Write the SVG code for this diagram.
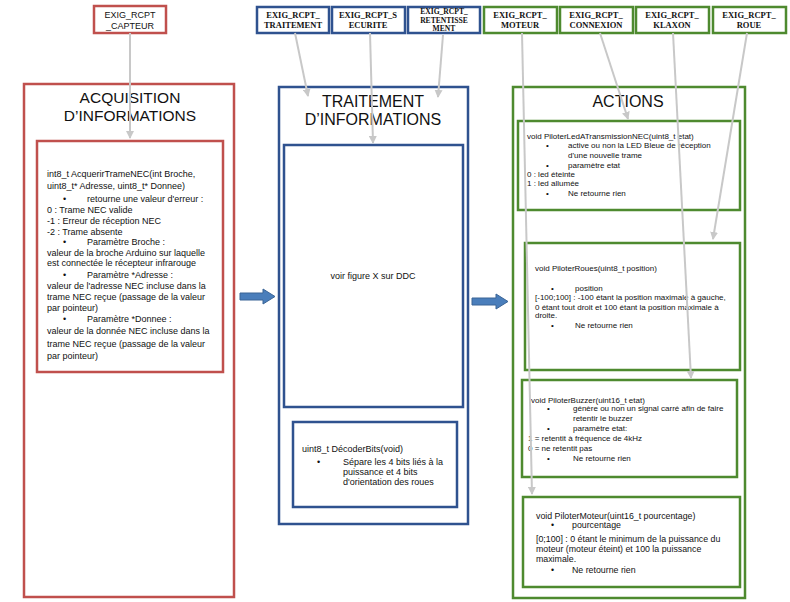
<svg xmlns="http://www.w3.org/2000/svg" width="790" height="602" viewBox="0 0 790 602">
<defs>
<style>
.red{fill:#fff;stroke:#c0504d;stroke-width:2.5}
.blue{fill:#fff;stroke:#2f528f;stroke-width:2.5}
.green{fill:#fff;stroke:#4e8a2f;stroke-width:2.5}
.title{font-family:"Liberation Sans",Arial,sans-serif;font-size:16px;fill:#111;text-anchor:middle}
.req{font-family:"Liberation Serif","Times New Roman",serif;font-weight:bold;font-size:8.5px;fill:#111;text-anchor:middle}
.reqs{font-family:"Liberation Sans",Arial,sans-serif;font-size:9px;fill:#111;text-anchor:middle}
.t9{font-family:"Liberation Sans",Arial,sans-serif;font-size:9px;fill:#111}
.t8{font-family:"Liberation Sans",Arial,sans-serif;font-size:8px;fill:#111}
.t88{font-family:"Liberation Sans",Arial,sans-serif;font-size:8.8px;fill:#111}
.conn{fill:none;stroke:#c8c8c8;stroke-width:2}
.block{fill:#4a7ebb;stroke:#3a6496;stroke-width:1}
</style>
<marker id="ah" markerWidth="8" markerHeight="8" refX="7" refY="4" orient="auto" markerUnits="userSpaceOnUse">
<path d="M0,0 L8,4 L0,8 Z" fill="#c8c8c8"/>
</marker>
</defs>
<rect width="790" height="602" fill="#fff"/>

<g id="req-capteur">
<rect class="red" x="94" y="6" width="72" height="27"/>
<text class="reqs" x="130" y="18">EXIG_RCPT</text>
<text class="reqs" x="130" y="29">_CAPTEUR</text>
</g>
<g id="req-traitement">
<rect class="blue" x="257" y="7" width="72" height="26"/>
<text class="req" x="293" y="18">EXIG_RCPT_</text>
<text class="req" x="293" y="28">TRAITEMENT</text>
</g>
<g id="req-securite">
<rect class="blue" x="332" y="7" width="73" height="26"/>
<text class="req" x="368" y="18">EXIG_RCPT_S</text>
<text class="req" x="368" y="28">ECURITE</text>
</g>
<g id="req-retentissement">
<rect class="blue" x="408" y="7" width="72" height="26"/>
<text class="req" x="444" y="14" style="font-size:7.6px">EXIG_RCPT_</text>
<text class="req" x="444" y="22.5" style="font-size:7.6px">RETENTISSE</text>
<text class="req" x="444" y="31" style="font-size:7.6px">MENT</text>
</g>
<g id="req-moteur">
<rect class="green" x="484" y="7" width="73" height="26"/>
<text class="req" x="520" y="18">EXIG_RCPT_</text>
<text class="req" x="520" y="28">MOTEUR</text>
</g>
<g id="req-connexion">
<rect class="green" x="560" y="7" width="73" height="26"/>
<text class="req" x="596" y="18">EXIG_RCPT_</text>
<text class="req" x="596" y="28">CONNEXION</text>
</g>
<g id="req-klaxon">
<rect class="green" x="636" y="7" width="73" height="26"/>
<text class="req" x="672" y="18">EXIG_RCPT_</text>
<text class="req" x="672" y="28">KLAXON</text>
</g>
<g id="req-roue">
<rect class="green" x="713" y="7" width="73" height="26"/>
<text class="req" x="749" y="18">EXIG_RCPT_</text>
<text class="req" x="749" y="28">ROUE</text>
</g>

<g id="acquisition">
<rect class="red" x="24" y="84" width="210" height="513"/>
<text class="title" x="130" y="103" style="font-size:15.5px">ACQUISITION</text>
<text class="title" x="130" y="121" style="font-size:15.5px">D’INFORMATIONS</text>
</g>
<g id="acquerir-trame">
<rect class="red" x="37" y="141" width="186" height="231"/>
<text class="t9" x="47" y="177">int8_t AcquerirTrameNEC(int Broche,</text>
<text class="t9" x="47" y="189">uint8_t* Adresse, uint8_t* Donnee)</text>
<text class="t9" x="63" y="202">•</text><text class="t9" x="87" y="202">retourne une valeur d'erreur :</text>
<text class="t9" x="47" y="213">0 : Trame NEC valide</text>
<text class="t9" x="47" y="224">-1 : Erreur de réception NEC</text>
<text class="t9" x="47" y="235">-2 : Trame absente</text>
<text class="t9" x="63" y="245">•</text><text class="t9" x="87" y="245">Paramètre Broche :</text>
<text class="t9" x="47" y="256"> valeur de la broche Arduino sur laquelle</text>
<text class="t9" x="47" y="266">est connectée le récepteur infrarouge</text>
<text class="t9" x="63" y="278">•</text><text class="t9" x="87" y="278">Paramètre *Adresse :</text>
<text class="t9" x="47" y="289">valeur de l'adresse NEC incluse dans la</text>
<text class="t9" x="47" y="300">trame NEC reçue (passage de la valeur</text>
<text class="t9" x="47" y="311">par pointeur)</text>
<text class="t9" x="63" y="322">•</text><text class="t9" x="87" y="322">Paramètre *Donnee :</text>
<text class="t9" x="47" y="334">valeur de la donnée NEC incluse dans la</text>
<text class="t9" x="47" y="347">trame NEC reçue (passage de la valeur</text>
<text class="t9" x="47" y="359">par pointeur)</text>
</g>

<g id="traitement">
<rect class="blue" x="279" y="87" width="189" height="437"/>
<text class="title" x="373" y="107">TRAITEMENT</text>
<text class="title" x="373" y="125">D’INFORMATIONS</text>
</g>
<g id="figure-ddc">
<rect class="blue" x="284" y="145" width="179" height="262"/>
<text class="t9" x="373" y="279" text-anchor="middle">voir figure X sur DDC</text>
</g>
<g id="decoder-bits">
<rect class="blue" x="293" y="422" width="164" height="85"/>
<text class="t9" x="302" y="452">uint8_t DécoderBits(void)</text>
<text class="t9" x="317" y="465">•</text><text class="t9" x="343" y="465">Sépare les 4 bits liés à la</text>
<text class="t9" x="343" y="475">puissance et  4 bits</text>
<text class="t9" x="343" y="485">d'orientation des roues</text>
</g>

<g id="actions">
<rect class="green" x="513" y="87" width="232" height="511"/>
<text class="title" x="628" y="107">ACTIONS</text>
</g>
<g id="piloter-led">
<rect class="green" x="518" y="121" width="222" height="89"/>
<text class="t8" x="527" y="139">void PiloterLedATransmissionNEC(uint8_t etat)</text>
<text class="t8" x="546" y="148">•</text><text class="t8" x="568" y="148">active ou non la LED Bleue de réception</text>
<text class="t8" x="568" y="158">d'une nouvelle trame</text>
<text class="t8" x="546" y="168">•</text><text class="t8" x="568" y="168">paramètre etat</text>
<text class="t8" x="527" y="177">0 : led éteinte</text>
<text class="t8" x="527" y="186">1 : led allumée</text>
<text class="t8" x="546" y="196">•</text><text class="t8" x="568" y="196">Ne retourne rien</text>
</g>
<g id="piloter-roues">
<rect class="green" x="525" y="243" width="215" height="127"/>
<text class="t8" x="535" y="271">void PiloterRoues(uint8_t position)</text>
<text class="t8" x="551" y="291">•</text><text class="t8" x="575" y="291">position</text>
<text class="t8" x="535" y="300">[-100;100] : -100 étant la position maximale à gauche,</text>
<text class="t8" x="535" y="310">0 étant tout droit et 100 étant la position maximale à</text>
<text class="t8" x="535" y="318">droite.</text>
<text class="t8" x="551" y="328">•</text><text class="t8" x="575" y="328">Ne retourne rien</text>
</g>
<g id="piloter-buzzer">
<rect class="green" x="522" y="380" width="215" height="97"/>
<text class="t8" x="531" y="403">void PiloterBuzzer(uint16_t etat)</text>
<text class="t8" x="547" y="411">•</text><text class="t8" x="573" y="411">génère ou non un signal carré afin de faire</text>
<text class="t8" x="573" y="421">retentir le buzzer</text>
<text class="t8" x="547" y="431">•</text><text class="t8" x="573" y="431">paramètre etat:</text>
<text class="t8" x="528" y="441">1 = retentit à fréquence de 4kHz</text>
<text class="t8" x="528" y="451">0 = ne retentit pas</text>
<text class="t8" x="547" y="461">•</text><text class="t8" x="573" y="461">Ne retourne rien</text>
</g>
<g id="piloter-moteur">
<rect class="green" x="523" y="497" width="217" height="90"/>
<text class="t88" x="536" y="519">void PiloterMoteur(uint16_t pourcentage)</text>
<text class="t88" x="551" y="528">•</text><text class="t88" x="572" y="528">pourcentage</text>
<text class="t88" x="536" y="542">[0;100] : 0 étant le minimum de la  puissance du</text>
<text class="t88" x="536" y="552">moteur (moteur éteint) et 100 la puissance</text>
<text class="t88" x="536" y="562">maximale.</text>
<text class="t88" x="551" y="573">•</text><text class="t88" x="572" y="573">Ne retourne rien</text>
</g>

<g id="connectors">
<path class="block" d="M240,293 L263,293 L263,289 L275,296.5 L263,304 L263,300 L240,300 Z"/>
<path class="block" d="M472,298 L496,298 L496,294 L508,301.5 L496,309 L496,305 L472,305 Z"/>
<line class="conn" x1="130" y1="33" x2="130" y2="138" marker-end="url(#ah)"/>
<line class="conn" x1="295" y1="33" x2="308" y2="96" marker-end="url(#ah)"/>
<line class="conn" x1="370" y1="33" x2="373" y2="143" marker-end="url(#ah)"/>
<line class="conn" x1="443" y1="35" x2="438" y2="97" marker-end="url(#ah)"/>
<line class="conn" x1="522" y1="33" x2="532" y2="494" marker-end="url(#ah)"/>
<line class="conn" x1="600" y1="33" x2="628" y2="119" marker-end="url(#ah)"/>
<line class="conn" x1="673" y1="33" x2="691" y2="378" marker-end="url(#ah)"/>
<line class="conn" x1="747" y1="33" x2="713" y2="239" marker-end="url(#ah)"/>
</g>
</svg>
